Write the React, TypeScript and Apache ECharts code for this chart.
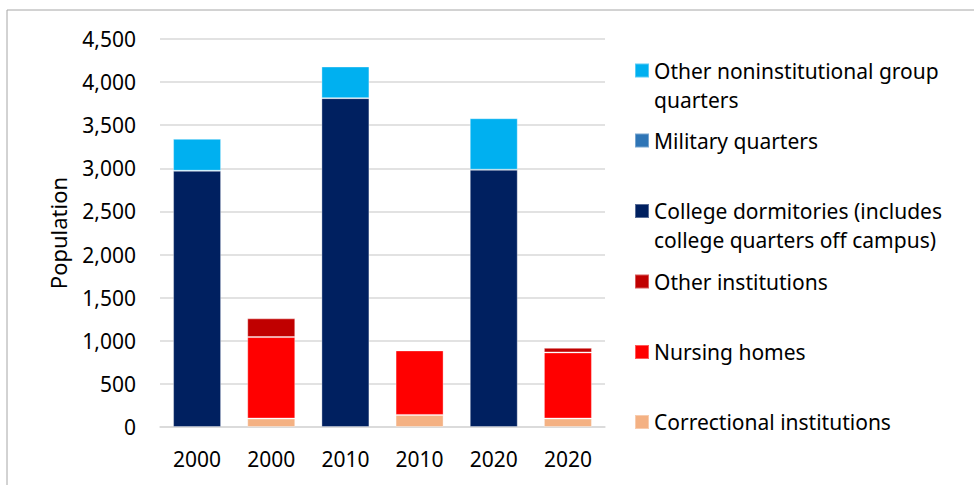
import React, { useEffect, useRef } from "react";
import * as echarts from "echarts";

const categories = ["2000", "2000", "2010", "2010", "2020", "2020"];
const correctional = [null, 98, null, 140, null, 98];
const nursingHomes = [null, 945, null, 748, null, 767];
const otherInstitutions = [null, 217, null, null, null, 53];
const collegeDorms = [2972, null, 3814, null, 2984, null];
const militaryQuarters = [null, null, null, null, null, null];
const otherNoninst = [370, null, 367, null, 597, null];
const yTicks = { min: 0, max: 4500, interval: 500 };

const FONT = "Noto Sans";
const FS = 21;

const seriesDefs = [
  { name: "Correctional institutions", data: correctional, color: "#F4B183" },
  { name: "Nursing homes", data: nursingHomes, color: "#FF0000" },
  { name: "Other institutions", data: otherInstitutions, color: "#C00000" },
  { name: "College dormitories (includes college quarters off campus)", data: collegeDorms, color: "#002060" },
  { name: "Military quarters", data: militaryQuarters, color: "#2E75B6" },
  { name: "Other noninstitutional group quarters", data: otherNoninst, color: "#00B0F0" },
];

const legendLayout = [
  { name: "Other noninstitutional group quarters", lines: ["Other noninstitutional group", "quarters"], top: 27 },
  { name: "Military quarters", lines: ["Military quarters"], top: 126 },
  { name: "College dormitories (includes college quarters off campus)", lines: ["College dormitories (includes", "college quarters off campus)"], top: 167.5 },
  { name: "Other institutions", lines: ["Other institutions"], top: 267 },
  { name: "Nursing homes", lines: ["Nursing homes"], top: 337.5 },
  { name: "Correctional institutions", lines: ["Correctional institutions"], top: 407.5 },
];

export default function App() {
  const ref = useRef<HTMLDivElement>(null);
  useEffect(() => {
    document.body.style.margin = "0";
    const chart = echarts.init(ref.current!, null, { renderer: "svg" });
    chart.setOption({
      animation: false,
      backgroundColor: "#ffffff",
      textStyle: { fontFamily: FONT },
      graphic: [
        {
          type: "rect",
          shape: { x: 7, y: 10, width: 1100, height: 600 },
          style: { fill: "none", stroke: "#a6a6a6", lineWidth: 1 },
          silent: true,
        },
      ],
      grid: { left: 160, right: 369, top: 39, bottom: 58, containLabel: false },
      xAxis: {
        type: "category",
        data: categories,
        axisLine: { show: true, lineStyle: { color: "#d9d9d9", width: 1.5 } },
        axisTick: { show: false },
        axisLabel: { fontSize: FS, color: "#000", fontFamily: FONT, margin: 21 },
      },
      yAxis: {
        type: "value",
        min: yTicks.min,
        max: yTicks.max,
        interval: yTicks.interval,
        name: "Population",
        nameLocation: "middle",
        nameRotate: 90,
        nameGap: 91,
        nameTextStyle: { fontSize: 22, color: "#000", fontFamily: FONT },
        axisLine: { show: false },
        axisTick: { show: false },
        splitLine: { lineStyle: { color: "#d9d9d9", width: 1.5 } },
        axisLabel: {
          fontSize: FS,
          color: "#000",
          fontFamily: FONT,
          margin: 24,
          formatter: (v: number) => v.toLocaleString("en-US"),
        },
      },
      legend: legendLayout.map((l) => ({
        data: [l.name],
        left: 634,
        top: l.top,
        padding: 0,
        itemWidth: 14,
        itemHeight: 14,
        itemGap: 0,
        icon: "rect",
        selectedMode: false,
        formatter: () =>
          l.lines.length > 1
            ? "{s| }\n" + l.lines.map((t) => "{t|" + t + "}").join("\n")
            : "{t|" + l.lines[0] + "}",
        textStyle: {
          fontSize: FS,
          color: "#000",
          fontFamily: FONT,
          lineHeight: 29,
          rich: {
            s: { fontSize: FS, lineHeight: 29, fontFamily: FONT },
            t: { fontSize: FS, lineHeight: 29, color: "#000", fontFamily: FONT },
          },
        },
      })),
      series: seriesDefs.map((s) => ({
        name: s.name,
        type: "bar",
        stack: "total",
        data: s.data,
        barWidth: 48,
        itemStyle: { color: s.color, borderColor: "rgba(255,255,255,0.35)", borderWidth: 1 },
        emphasis: { disabled: true },
      })),
    });
    return () => chart.dispose();
  }, []);
  return <div ref={ref} style={{ width: 974, height: 485 }} />;
}
